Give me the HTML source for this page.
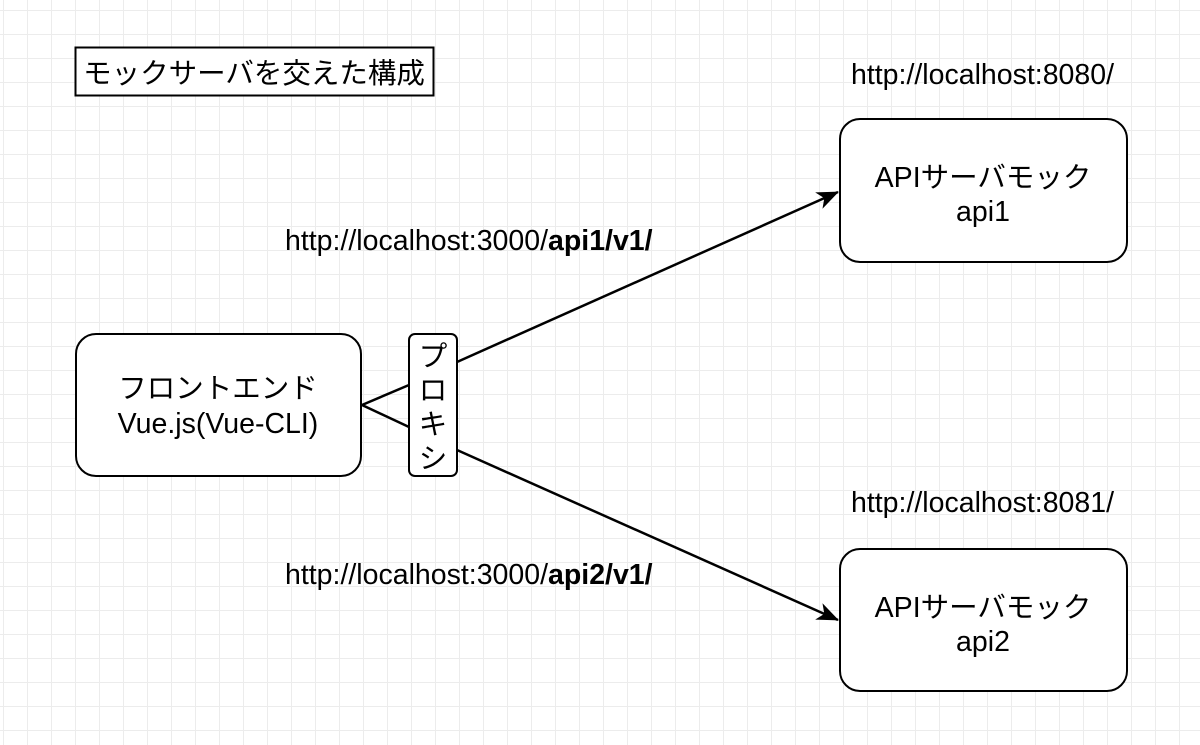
<!DOCTYPE html>
<html><head><meta charset="utf-8"><style>
html,body{margin:0;padding:0}
body{width:1200px;height:745px;overflow:hidden;background:#fff;
background-image:linear-gradient(to right,#ececec 1px,transparent 1px),linear-gradient(to bottom,#ececec 1px,transparent 1px);
background-size:24px 24px;background-position:3px 10px;}
</style></head><body>
<svg width="1200" height="745" style="position:absolute;left:0;top:0" font-family="'Liberation Sans','Noto Sans CJK JP',sans-serif">
<defs>
<marker id="b" markerWidth="22" markerHeight="20" refX="21" refY="10" orient="auto" markerUnits="userSpaceOnUse" viewBox="0 0 22 20"><path d="M0,1 L22,10 L0,19 L6,10 z" fill="#000"/></marker></defs>
<rect x="75.5" y="47.5" width="358" height="48" fill="#fff" stroke="#000" stroke-width="2"/>
<text x="254" y="83" font-size="28.5" text-anchor="middle">モックサーバを交えた構成</text>
<rect x="76" y="334" width="285" height="142" rx="20" fill="#fff" stroke="#000" stroke-width="2"/>
<text x="218" y="398" font-size="28.5" text-anchor="middle">フロントエンド</text>
<text x="218" y="433" font-size="28.5" text-anchor="middle">Vue.js(Vue-CLI)</text>
<rect x="840" y="119" width="287" height="143" rx="20" fill="#fff" stroke="#000" stroke-width="2"/>
<text x="983" y="187" font-size="28.5" text-anchor="middle">APIサーバモック</text>
<text x="983" y="221" font-size="28.5" text-anchor="middle">api1</text>
<rect x="840" y="549" width="287" height="142" rx="20" fill="#fff" stroke="#000" stroke-width="2"/>
<text x="983" y="617" font-size="28.5" text-anchor="middle">APIサーバモック</text>
<text x="983" y="651" font-size="28.5" text-anchor="middle">api2</text>
<line x1="362" y1="405" x2="409" y2="385" stroke="#000" stroke-width="2.5"/>
<line x1="362" y1="405" x2="409" y2="427" stroke="#000" stroke-width="2.5"/>
<line x1="457" y1="362" x2="838" y2="192" stroke="#000" stroke-width="2.5" marker-end="url(#b)"/>
<line x1="457" y1="450" x2="838" y2="620" stroke="#000" stroke-width="2.5" marker-end="url(#b)"/>
<rect x="409" y="334" width="48" height="142" rx="6" fill="#fff" stroke="#000" stroke-width="2"/>
<text x="433" y="366" font-size="28.5" text-anchor="middle">プ</text>
<text x="433" y="400" font-size="28.5" text-anchor="middle">ロ</text>
<text x="433" y="434" font-size="28.5" text-anchor="middle">キ</text>
<text x="433" y="468" font-size="28.5" text-anchor="middle">シ</text>
<text x="851" y="84" font-size="28.5">http://localhost:8080/</text>
<text x="851" y="512" font-size="28.5">http://localhost:8081/</text>
<text x="285" y="250" font-size="28.5">http://localhost:3000/<tspan font-weight="bold">api1/v1/</tspan></text>
<text x="285" y="584" font-size="28.5">http://localhost:3000/<tspan font-weight="bold">api2/v1/</tspan></text>
</svg>
</body></html>
